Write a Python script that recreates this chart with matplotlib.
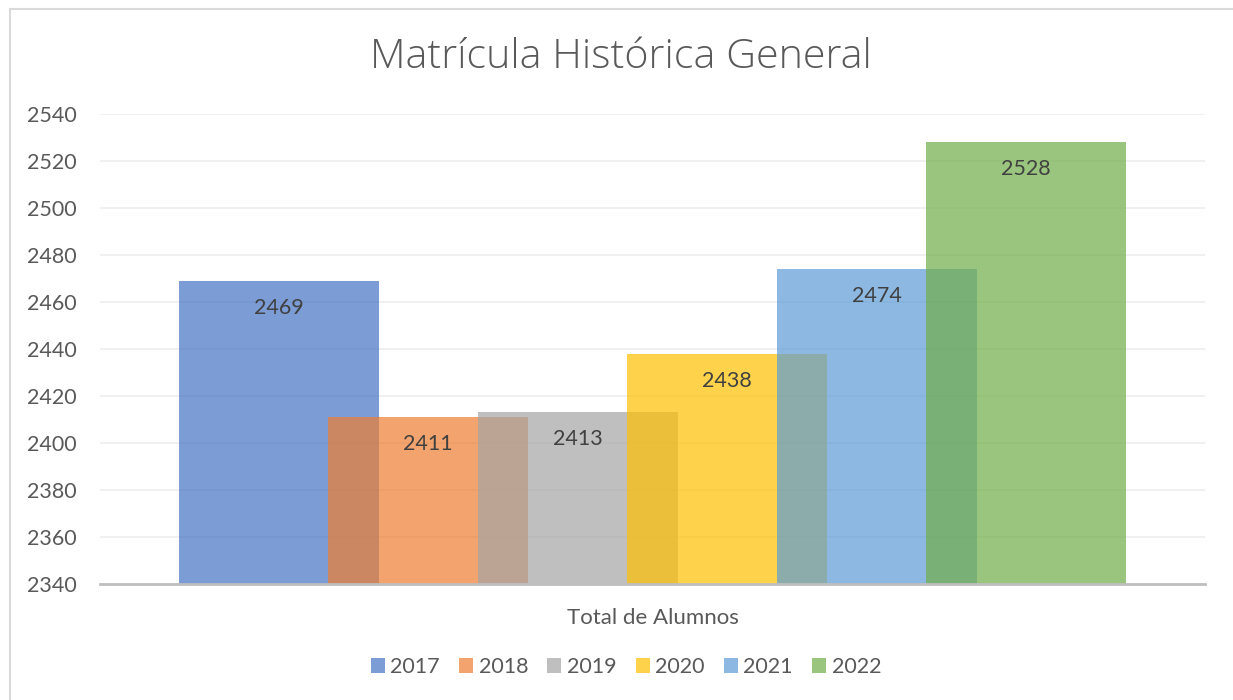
import matplotlib
matplotlib.use("Agg")
import matplotlib.pyplot as plt
from matplotlib.patches import Rectangle

plt.rcParams['font.family'] = ['Lato', 'DejaVu Sans']

years = ['2017', '2018', '2019', '2020', '2021', '2022']
values = [2469, 2411, 2413, 2438, 2474, 2528]
colors = ['#4472C4', '#ED7D31', '#A5A5A5', '#FFC000', '#5B9BD5', '#70AD47']
category = 'Total de Alumnos'
title = 'Matrícula Histórica General'
yticks = list(range(2340, 2541, 20))

W, H = 1233, 700
fig = plt.figure(figsize=(W / 100, H / 100), dpi=100)

# chart frame
fig.patches.append(Rectangle((10 / W, -0.05), 1.1, (H - 9) / H + 0.05,
                             transform=fig.transFigure, fill=False,
                             edgecolor='#D9D9D9', linewidth=1.5))

left, right, top, bottom = 100, 1205, 114, 584
ax = fig.add_axes([left / W, (H - bottom) / H, (right - left) / W, (bottom - top) / H])

pw = right - left
bar_w = 200 / pw
step = 149.5 / pw
n = len(values)
for i, (y, v, c) in enumerate(zip(years, values, colors)):
    x = (i - (n - 1) / 2) * step
    ax.bar(x, v - 2340, bottom=2340, width=bar_w, color=c, alpha=0.7, label=y, zorder=2)
    ax.annotate(str(v), (x, v), xytext=(0, -27), textcoords='offset pixels',
                ha='center', va='center', fontsize=15.5, color='#404040', zorder=5)

ax.set_xlim(-0.5, 0.5)
ax.set_ylim(2340, 2540)
ax.set_yticks(yticks)
ax.set_xticks([0])
ax.set_xticklabels([category])
ax.tick_params(axis='y', length=0, labelsize=15.5, labelcolor='#595959', pad=17)
ax.tick_params(axis='x', length=0, labelsize=16, labelcolor='#595959', pad=17)
ax.grid(axis='y', color='#EDEDED', linewidth=1.2, zorder=0)
ax.set_axisbelow(True)
for s in ['top', 'right', 'left']:
    ax.spines[s].set_visible(False)
ax.spines['bottom'].set_color('#BFBFBF')
ax.spines['bottom'].set_linewidth(2)
ax.spines['bottom'].set_zorder(3)

fig.text(621 / W, 1 - 58 / H, title, ha='center', va='center', fontsize=29.7,
         color='#595959', family=['Open Sans', 'DejaVu Sans'], fontweight='light')

handles, labels = ax.get_legend_handles_labels()
fig.legend(handles, labels, loc='center', bbox_to_anchor=(626 / W, 1 - 667 / H),
           ncol=6, frameon=False, fontsize=15.5, labelcolor='#595959',
           handlelength=0.65, handleheight=0.65, handletextpad=0.25, columnspacing=0.9)

fig.savefig('out.png', dpi=100, facecolor='white')
